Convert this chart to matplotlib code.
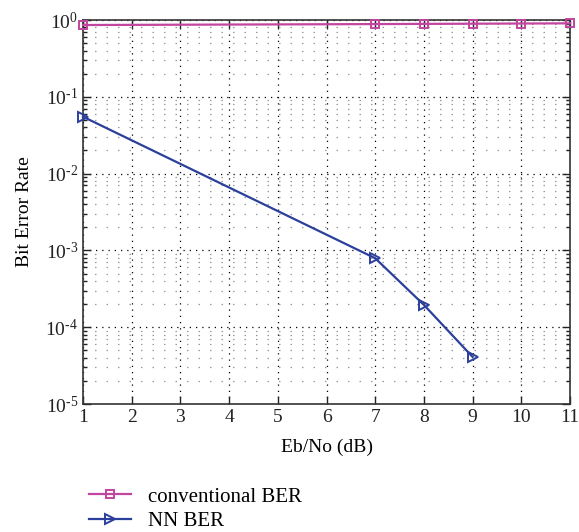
import numpy as np
import matplotlib
matplotlib.use("Agg")
import matplotlib.pyplot as plt
from matplotlib.ticker import LogLocator, NullFormatter, FuncFormatter

plt.rcParams['font.family'] = ['Liberation Serif', 'DejaVu Serif']
plt.rcParams['mathtext.fontset'] = 'custom'
plt.rcParams['mathtext.rm'] = 'Liberation Serif'
plt.rcParams['mathtext.it'] = 'Liberation Serif:italic'

# data
conv_x = [1, 7, 8, 9, 10, 11]
conv_ber = [0.86, 0.885, 0.89, 0.895, 0.90, 0.905]
nn_x = [1, 7, 8, 9]
nn_ber = [0.055, 7.9e-4, 1.95e-4, 4.1e-5]
x_ticks = list(range(1, 12))

pink = '#c2459f'
blue = '#2b3f9c'


def decade_label(v, pos):
    e = int(round(np.log10(v)))
    return r'$10^{\text{%d}}$' % e


fig = plt.figure(figsize=(5.79, 5.32), dpi=100)
ax = fig.add_axes([0.1434, 0.2406, 0.8411, 0.7218])

ax.semilogy(conv_x, conv_ber, color=pink, linewidth=1.6, marker='s',
            markersize=6, markerfacecolor='none', markeredgewidth=1.4,
            label='conventional BER', clip_on=False, zorder=5)
ax.semilogy(nn_x, nn_ber, color=blue, linewidth=1.6, marker='>',
            markersize=7, markerfacecolor='none', markeredgewidth=1.4,
            label='NN BER', clip_on=False, zorder=5)

ax.set_xlim(1, 11)
ax.set_ylim(1e-5, 1)
ax.set_xticks(x_ticks)
ax.yaxis.set_major_locator(LogLocator(base=10, numticks=10))
ax.yaxis.set_major_formatter(FuncFormatter(decade_label))
ax.yaxis.set_minor_locator(LogLocator(base=10, subs=np.arange(2, 10), numticks=20))
ax.yaxis.set_minor_formatter(NullFormatter())

ax.grid(True, which='major', color='black', linewidth=0.9, dashes=(1, 4))
ax.grid(True, which='minor', axis='y', color='#999999', linewidth=0.9, dashes=(1.2, 8))

ax.tick_params(which='both', direction='in', top=True, right=True,
               labelsize=14, width=1.0, colors='#222222')
ax.tick_params(which='major', length=6)
ax.tick_params(which='minor', length=3)
for s in ax.spines.values():
    s.set_linewidth(1.2)
    s.set_color('#333333')

ax.set_xlabel('Eb/No (dB)', fontsize=14, labelpad=9)
ax.set_ylabel('Bit Error Rate', fontsize=14, labelpad=9)

fig.legend(loc='upper left', bbox_to_anchor=(0.140, 0.1), frameon=False,
           fontsize=15, handlelength=2.0, labelspacing=0.22, borderaxespad=0,
           handletextpad=0.82)

fig.savefig('out.png', dpi=100)
